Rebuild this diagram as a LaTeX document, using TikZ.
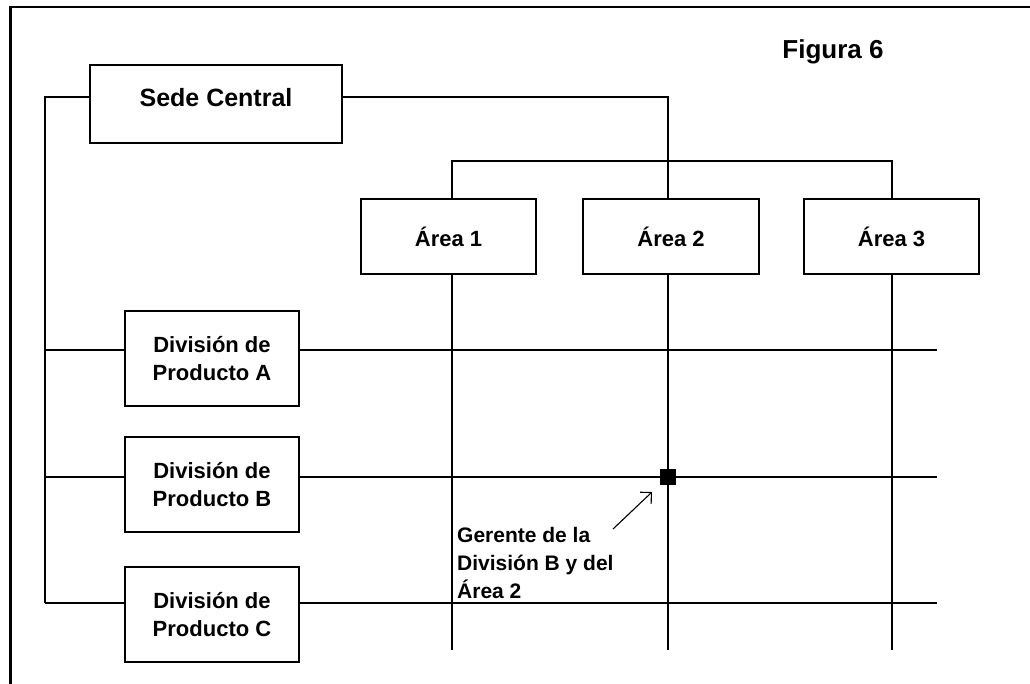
\documentclass[tikz,border=0pt]{standalone}
\usepackage{fontspec}
\setmainfont{Liberation Sans}
\usetikzlibrary{arrows.meta}
\begin{document}
\begin{tikzpicture}[x=1pt,y=-1pt,
  box/.style={draw,line width=1.3pt,inner sep=0pt,align=center,
    font=\bfseries\fontsize{22}{28}\selectfont},
  link/.style={line width=1.3pt},
  frame/.style={line width=2.6pt}]
\useasboundingbox (0,0) rectangle (1030,684);

% outer frame (top and left edges)
\draw[frame] (1030,7) -- (10.5,7) -- (10.5,684);

% title
\node[font=\bfseries\fontsize{26}{30}\selectfont] (title) at (833,52) {Figura 6};

% headquarters
\node[box,minimum width=252pt,minimum height=78pt,
  font=\bfseries\fontsize{25}{30}\selectfont,text height=18pt,text depth=12pt]
  (sede) at (216,104) {Sede Central};

% functional areas
\node[box,minimum width=175pt,minimum height=75pt] (area1) at (448.5,236.5) {Área 1};
\node[box,minimum width=176pt,minimum height=75pt] (area2) at (671,236.5) {Área 2};
\node[box,minimum width=175pt,minimum height=75pt] (area3) at (891.5,236.5) {Área 3};

% product divisions
\node[box,minimum width=174pt,minimum height=95pt] (divA) at (212,358.5) {División de\\Producto A};
\node[box,minimum width=174pt,minimum height=95pt] (divB) at (212,484.5) {División de\\Producto B};
\node[box,minimum width=174pt,minimum height=95pt] (divC) at (212,614.5) {División de\\Producto C};

% helper coordinates for the grid
\coordinate (sedeY) at (0,97);
\coordinate (busL) at (45,97);
\coordinate (areaBus) at (668,161);
\coordinate (col1) at (452,650);
\coordinate (col2) at (668,650);
\coordinate (col3) at (892,650);
\coordinate (rowA) at (937,350);
\coordinate (rowB) at (937,477);
\coordinate (rowC) at (937,603);
\coordinate (busA) at (45,350);
\coordinate (busB) at (45,477);
\coordinate (busC) at (45,603);

% headquarters to divisions
\draw[link] (sede.west |- sedeY) -- (busL) -- (busC);
\draw[link] (busA) -- (divA.west |- busA);
\draw[link] (busB) -- (divB.west |- busB);
\draw[link] (busC) -- (divC.west |- busC);

% headquarters to areas
\draw[link] (sede.east |- sedeY) -| (area2.north -| areaBus);
\draw[link] (area1.north -| col1) |- (areaBus) -| (area3.north -| col3);

% division rows
\draw[link] (divA.east |- rowA) -- (rowA);
\draw[link] (divB.east |- rowB) -- (rowB);
\draw[link] (divC.east |- rowC) -- (rowC);

% area columns
\draw[link] (area1.south -| col1) -- (col1);
\draw[link] (area2.south -| col2) -- (col2);
\draw[link] (area3.south -| col3) -- (col3);

% manager at the crossing of Division B and Area 2
\node[fill=black,minimum size=16pt,inner sep=0pt] (mgr) at (668,477) {};
\node[anchor=north west,align=left,inner sep=0pt,
  font=\bfseries\fontsize{21}{28}\selectfont] (gerente) at (457,527)
  {Gerente de la\\División B y del\\Área 2};
\coordinate (arrowStart) at (613,529);
\coordinate (arrowEnd) at (652,492);
\draw[line width=1.1pt,-{Straight Barb[length=8pt,width=16pt]}] (arrowStart) -- (arrowEnd);
\end{tikzpicture}
\end{document}
